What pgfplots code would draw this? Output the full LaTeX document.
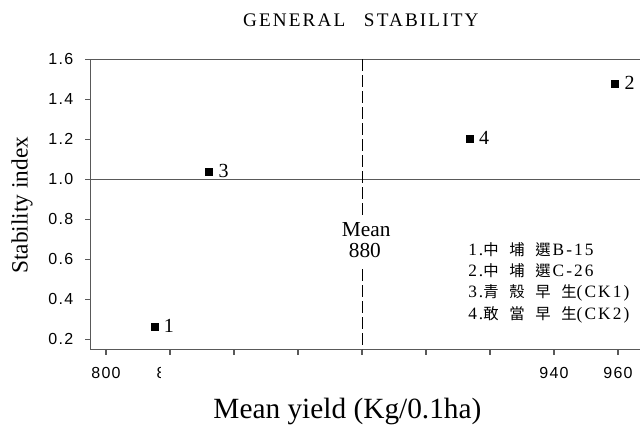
\documentclass[border=0pt]{standalone}
\usepackage{fontspec}
\setmainfont{Liberation Serif}
\newfontfamily\tickfont[LetterSpace=8]{Liberation Sans}
\newfontfamily\titlefont[LetterSpace=11]{Liberation Serif}
\newfontfamily\legfont[LetterSpace=12]{Liberation Serif}
\newfontfamily\cjk{Noto Sans CJK TC}
\usepackage{pgfplots}
\usepackage{pgfplotstable}
\pgfplotsset{compat=1.18}

% mean yield (x), stability index (y), cultivar number
\pgfplotstableread{
x      y      label
815.1  0.263  1
959.1  1.479  2
832.2  1.040  3
913.6  1.205  4
}\cultivars

\newcommand\cj[1]{{\cjk\fontsize{11.5}{14}\selectfont #1}}
\newcommand\cg{\hspace{8pt}}
% the 820 label is cut off in the original, only a sliver of the 8 shows
\newcommand\clippedeight{\begin{pgfpicture}%
  \pgfpathrectangle{\pgfpoint{0pt}{0pt}}{\pgfpoint{20pt}{8pt}}\pgfusepath{use as bounding box}%
  \pgfpathrectangle{\pgfpoint{-1pt}{-2pt}}{\pgfpoint{3.6pt}{14pt}}\pgfusepath{clip}%
  \pgftext[base,left]{8}%
\end{pgfpicture}}

\begin{document}
\begin{tikzpicture}
\begin{axis}[
    at={(0,0)}, anchor=south west,
    scale only axis, width=419.5pt, height=217.5pt,
    xmin=795.2, xmax=970, ymin=0.15, ymax=1.6,
    clip=false,
    axis line style={black!65, line width=0.8pt},
    tick style={black!65, line width=0.8pt},
    tick align=outside, major tick length=4pt,
    xtick pos=bottom, ytick pos=left,
    xtick={800,820,840,860,880,900,920,940,960},
    xticklabels={800,\clippedeight,,,,,,940,960},
    ytick={0.2,0.4,0.6,0.8,1.0,1.2,1.4,1.6},
    yticklabels={0.2,0.4,0.6,0.8,1.0,1.2,1.4,1.6},
    /pgf/number format/assume math mode=true,
    tick label style={font=\tickfont\fontsize{12}{14}\selectfont},
    xticklabel style={anchor=base, yshift=-17.75pt},
    yticklabel style={anchor=east, xshift=-5.5pt},
]
\addplot[black!65, line width=0.8pt] coordinates {(795.2,1) (970,1)};
\addplot[black, line width=0.6pt, dash pattern=on 9pt off 3pt] coordinates {(880,1.6) (880,0.808)};
\addplot[black, line width=0.6pt, dash pattern=on 9pt off 3pt] coordinates {(880,0.55) (880,0.15)};
\addplot[only marks, mark=square*, mark size=2.6pt, black,
    point meta=explicit symbolic, nodes near coords,
    nodes near coords style={anchor=base west, inner sep=0pt, xshift=7pt, yshift=-4.5pt,
        font=\fontsize{15}{18}\selectfont}]
    table[x=x, y=y, meta=label] {\cultivars};
\node[anchor=base, font=\fontsize{16}{19}\selectfont] at (axis cs:881.3,0.7165) {Mean};
\node[anchor=base, font=\fontsize{16}{19}\selectfont] at (axis cs:880.9,0.6115) {880};
\end{axis}
\node[anchor=base, font=\titlefont\fontsize{14.4}{17}\selectfont] at (202.6pt,242pt) {GENERAL\hspace{14pt}STABILITY};
\node[anchor=base, font=\fontsize{22}{26}\selectfont] at (192.6pt,-51.75pt) {Mean yield (Kg/0.1ha)};
\node[anchor=base, rotate=90, font=\fontsize{17.5}{21}\selectfont] at (-47.25pt,108pt) {Stability index};
\begin{scope}[every node/.style={anchor=base west, inner sep=0pt, font=\legfont\fontsize{13}{15}\selectfont}]
\node at (283pt,70.2pt) {1.\cj{中}\cg\cj{埔}\cg\cj{選}\hspace{1.5pt}B-15};
\node at (283pt,54.5pt) {2.\cj{中}\cg\cj{埔}\cg\cj{選}\hspace{1.5pt}C-26};
\node at (283pt,39.0pt) {3.\cj{青}\cg\cj{殼}\cg\cj{早}\cg\cj{生}(CK1)};
\node at (283pt,22.7pt) {4.\cj{敢}\cg\cj{當}\cg\cj{早}\cg\cj{生}(CK2)};
\end{scope}
\pgfresetboundingbox
\path[use as bounding box] (-68pt,-59.8pt) rectangle (412pt,262pt);
\end{tikzpicture}
\end{document}
